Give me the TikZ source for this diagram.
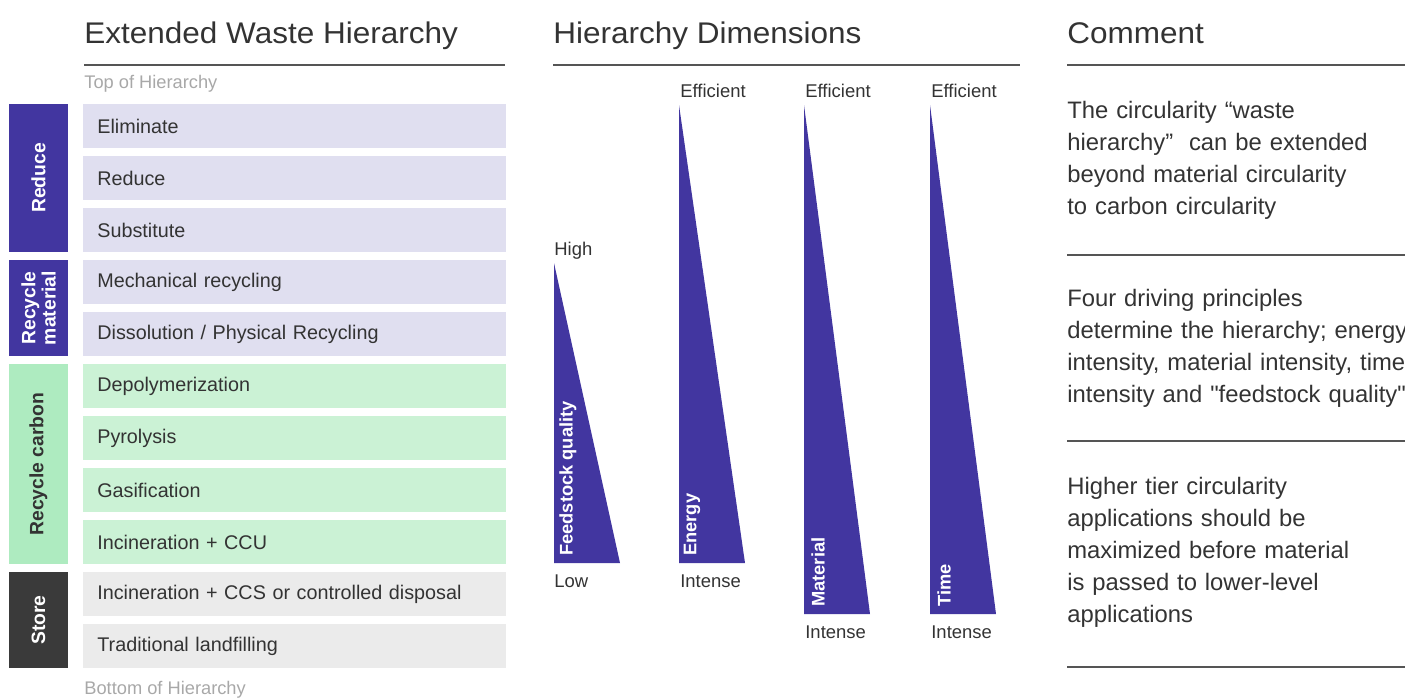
\documentclass[tikz,border=0pt]{standalone}
\usepackage{fontspec}
\setmainfont{Liberation Sans}[Ligatures=TeXOff]
\usepackage{tikz}
\usetikzlibrary{positioning, calc}
\definecolor{indigo}{HTML}{4236A0}
\definecolor{lavender}{HTML}{E0DFF0}
\definecolor{mint}{HTML}{CBF2D5}
\definecolor{mintdark}{HTML}{AEEBC0}
\definecolor{paleg}{HTML}{EBEBEB}
\definecolor{charcoal}{HTML}{3A3A3A}
\definecolor{txt}{HTML}{333333}
\definecolor{hint}{HTML}{A8A8A8}
\definecolor{rule}{HTML}{555555}

\begin{document}
\begin{tikzpicture}[x=0.02cm, y=-0.02cm, % 1 unit = 1 pixel
    heading/.style={anchor=base west, inner sep=0, text=txt, xscale=1.055, font=\fontsize{17}{19}\selectfont},
    hline/.style={rule, line width=0.8pt},
    item/.style={anchor=north west, minimum height=0.88cm, inner ysep=0, inner xsep=0.28cm,
        text width=7.9cm, align=left, text=txt, font=\fontsize{11.25}{13}\selectfont},
    group/.style={rotate=90, minimum height=1.18cm, inner sep=0, align=center,
        font=\bfseries\fontsize{11}{11.5}\selectfont},
    small/.style={anchor=west, inner sep=0, text=txt, font=\fontsize{10.5}{12}\selectfont},
    hintlabel/.style={small, text=hint, font=\fontsize{10.4}{12}\selectfont},
    wedge/.style={rotate=90, anchor=west, inner sep=0, text=white, font=\bfseries\fontsize{10.4}{12}\selectfont},
    comment/.style={anchor=north west, inner sep=0, text width=8cm, align=left, text=txt,
        font=\fontsize{13.55}{18.2}\selectfont}]

    % Rahmen
    \useasboundingbox (0,0) rectangle (1405,698);
    \clip (0,0) rectangle (1405,698);

    % Überschriften
    \node[heading] (hEWH) at (84,43) {Extended Waste Hierarchy};
    \node[heading] (hDim) at (553,43) {Hierarchy Dimensions};
    \node[heading] (hCom) at (1067,43) {Comment};
    \draw[hline] (84,65) -- (505,65);
    \draw[hline] (553,65) -- (1020,65);
    \draw[hline] (1067,65) -- (1405,65);

    % Hierarchie
    \node[hintlabel] (top) at (84,84) {Top of Hierarchy};
    \node[item, fill=lavender] (elim) at (83,104) {Eliminate};
    \node[item, fill=lavender] (redu) at (83,156) {Reduce};
    \node[item, fill=lavender] (subs) at (83,208) {Substitute};
    \node[item, fill=lavender] (mech) at (83,260) {Mechanical recycling};
    \node[item, fill=lavender] (diss) at (83,312) {Dissolution / Physical Recycling};
    \node[item, fill=mint] (depo) at (83,364) {Depolymerization};
    \node[item, fill=mint] (pyro) at (83,416) {Pyrolysis};
    \node[item, fill=mint] (gasi) at (83,468) {Gasification};
    \node[item, fill=mint] (iccu) at (83,520) {Incineration + CCU};
    \node[item, fill=paleg] (iccs) at (83,572) {Incineration + CCS or controlled disposal};
    \node[item, fill=paleg] (land) at (83,624) {Traditional landfilling};
    \node[hintlabel] (bottom) at (84,690) {Bottom of Hierarchy};

    % Gruppen
    \node[group, fill=indigo, text=white, minimum width=2.96cm] (gReduce) at (38.5,178) {Reduce};
    \node[group, fill=indigo, text=white, minimum width=1.92cm] (gMat) at (38.5,308) {Recycle\\material};
    \node[group, fill=mintdark, text=txt, minimum width=4cm] (gCarb) at (38.5,464) {Recycle carbon};
    \node[group, fill=charcoal, text=white, minimum width=1.92cm] (gStore) at (38.5,620) {Store};

    % Keile
    \fill[indigo] (554,263) -- (554,563) -- (620,563) -- cycle;
    \fill[indigo] (679,105) -- (679,563) -- (745,563) -- cycle;
    \fill[indigo] (804,105) -- (804,614) -- (870,614) -- cycle;
    \fill[indigo] (930,105) -- (930,614) -- (996,614) -- cycle;
    \node[wedge] (wFeed) at (568,556) {Feedstock quality};
    \node[wedge] (wEnergy) at (692,556) {Energy};
    \node[wedge] (wMat) at (818,607) {Material};
    \node[wedge] (wTime) at (944,607) {Time};

    \node[small] (high) at (554,251) {High};
    \node[small] (low) at (554,581) {Low};
    \node[small] (effE) at (680,91) {Efficient};
    \node[small] (intE) at (680,581) {Intense};
    \node[small] (effM) at (805,91) {Efficient};
    \node[small] (intM) at (805,632) {Intense};
    \node[small] (effT) at (931,91) {Efficient};
    \node[small] (intT) at (931,632) {Intense};

    % Kommentare
    \node[comment] (c1) at (1067,101) {The circularity “waste\\hierarchy”\ \ can be extended\\beyond material circularity\\to carbon circularity};
    \draw[hline] (1067,255) -- (1405,255);
    \node[comment] (c2) at (1067,289) {Four driving principles\\determine the hierarchy; energy\\intensity, material intensity, time\\intensity and "feedstock quality"};
    \draw[hline] (1067,441) -- (1405,441);
    \node[comment] (c3) at (1067,477) {Higher tier circularity\\applications should be\\maximized before material\\is passed to lower-level\\applications};
    \draw[hline] (1067,667) -- (1405,667);

\end{tikzpicture}
\end{document}
